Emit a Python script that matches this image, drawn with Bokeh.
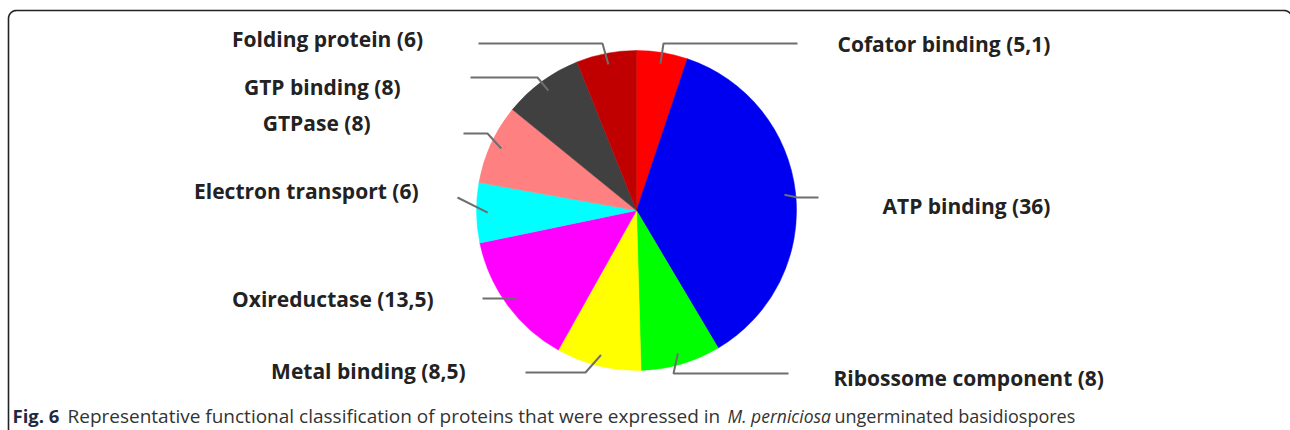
import numpy as np
from bokeh.plotting import figure
from bokeh.models import Range1d, ColumnDataSource
from bokeh.core.properties import value
from bokeh.embed import file_html
from bokeh.resources import INLINE

# Functional classes (clockwise from 12 o'clock) and their shares
categories = ["Cofator binding", "ATP binding", "Ribossome component", "Metal binding",
              "Oxireductase", "Electron transport", "GTPase", "GTP binding", "Folding  protein"]
shares = [5.1, 36, 8, 8.5, 13.5, 6, 8, 8, 6]
share_text = ["5,1", "36", "8", "8,5", "13,5", "6", "8", "8", "6"]
colors = ["#FF0000", "#0000F0", "#00FF00", "#FFFF00", "#FF00FF",
          "#00FFFF", "#FF8080", "#404040", "#C00000"]

W, H = 1290, 430
CX, CY, R = 636, H - 210, 160

# label placement: (anchor x, label y from top, align, leader elbow (x, y), leader end x)
label_layout = [
    (837, 43, "left", (663, 43), 797),
    (882, 205, "left", (797, 197), 818),
    (833, 377, "left", (673, 373), 788),
    (465, 370, "right", (585, 372), 525),
    (433, 298, "right", (482, 298), 482),
    (418, 190, "right", (457, 197), 457),
    (370, 122, "right", (487, 133), 463),
    (400, 86, "right", (537, 77), 470),
    (428, 38, "right", (602, 43), 478),
]

vals = np.array(shares, dtype=float)
frac = vals / vals.sum()
cum_end = np.cumsum(frac)
cum_start = cum_end - frac
start_angle = np.pi / 2 - cum_end * 2 * np.pi
end_angle = np.pi / 2 - cum_start * 2 * np.pi
mid = (start_angle + end_angle) / 2

p = figure(width=W, height=H, x_range=Range1d(0, W), y_range=Range1d(0, H),
           output_backend="svg", toolbar_location=None, min_border=0)
p.axis.visible = False
p.xgrid.visible = False
p.ygrid.visible = False
p.outline_line_color = None
p.background_fill_color = "white"
p.border_fill_color = "white"

src = ColumnDataSource(dict(start=start_angle, end=end_angle, color=colors))
p.wedge(x=CX, y=CY, radius=R, start_angle="start", end_angle="end",
        fill_color="color", line_color="color", line_width=0.5, source=src)

# leader lines from each slice towards its label
for i, (lx, ly, align, elbow, endx) in enumerate(label_layout):
    r0 = 0.93 * R
    sx = CX + r0 * np.cos(mid[i])
    sy = CY + r0 * np.sin(mid[i])
    ex, ey = elbow[0], H - elbow[1]
    p.line([sx, ex, endx], [sy, ey, ey], line_color="#6E6E6E", line_width=2)

labels = [f"{c} ({t})" for c, t in zip(categories, share_text)]
for (lx, ly, align, elbow, endx), txt in zip(label_layout, labels):
    p.text(x=[lx], y=[H - ly], text=[txt], text_font=value("Open Sans"), text_font_style="bold",
           text_font_size="21px", text_color="#222222", text_align=align,
           text_baseline="middle")

# rounded frame around the figure panel (right edge sits just past the page)
t = np.linspace(0, np.pi / 2, 12)
rc = 8
left_x, top_y, right_x = 8, H - 10, 1291.5
fx = np.concatenate([[left_x], left_x + rc - rc * np.cos(t), right_x - rc + rc * np.sin(t), [right_x]])
fy = np.concatenate([[-5], top_y - rc + rc * np.sin(t), top_y - rc + rc * np.cos(t), [-5]])
p.line(fx, fy, line_color="#222222", line_width=1.6)

# caption
cap_y = H - 415
p.text(x=[12], y=[cap_y], text=["Fig. 6"], text_font=value("Open Sans"), text_font_style="bold",
       text_font_size="18.5px", text_color="#1E2A40", text_baseline="alphabetic")
p.text(x=[67], y=[cap_y],
       text=["Representative functional classification of proteins that were expressed in"],
       text_font=value("Open Sans"), text_font_size="19px", text_color="#333333",
       text_baseline="alphabetic")
p.text(x=[727], y=[cap_y], text=["M. perniciosa"], text_font=value("Open Sans"),
       text_font_style="italic", text_font_size="17.5px", text_color="#333333",
       text_baseline="alphabetic")
p.text(x=[834], y=[cap_y], text=["ungerminated basidiospores"], text_font=value("Open Sans"),
       text_font_size="18px", text_color="#333333", text_baseline="alphabetic")

open("out.html", "w").write(file_html(p, INLINE))
